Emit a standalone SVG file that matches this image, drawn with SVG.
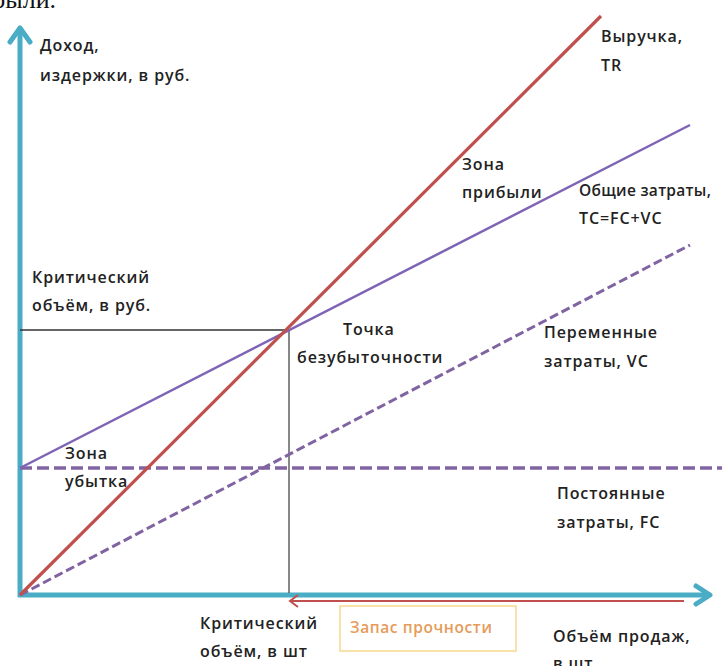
<svg xmlns="http://www.w3.org/2000/svg" width="722" height="666" viewBox="0 0 722 666">
<style>
.t{font-family:"Open Sans","Liberation Sans",sans-serif;font-size:16px;font-weight:600;fill:#222;letter-spacing:0.9px}
.ax{stroke:#4bacc6;stroke-width:5;fill:none}
.ah{stroke:#4bacc6;stroke-width:5;fill:none;stroke-linecap:round;stroke-linejoin:round}
.dash{stroke:#8064a2;fill:none}
</style>
<rect width="722" height="666" fill="#fff"/>
<text x="-8" y="8" font-family="Liberation Serif,serif" font-size="26" fill="#111">были.</text>
<g id="connectors">
  <line class="ax" x1="20" y1="597" x2="20" y2="30"/>
  <polyline class="ah" points="10,42 20,28 30,42"/>
  <line class="ax" x1="18" y1="595" x2="706" y2="595"/>
  <polyline class="ah" points="696,586 710,595 696,604"/>
  <line x1="290" y1="601" x2="684" y2="601" stroke="#c0504d" stroke-width="2"/>
  <polyline points="298,595 290,601 298,607" stroke="#c0504d" stroke-width="2" fill="none"/>
  <line x1="20" y1="330" x2="289" y2="330" stroke="#333" stroke-width="1.4"/>
  <line x1="289" y1="330" x2="289" y2="593" stroke="#555" stroke-width="1.4"/>
  <line id="fc" class="dash" x1="20" y1="468" x2="722" y2="468" stroke-width="3.5" stroke-dasharray="12,5"/>
  <line id="vc" class="dash" x1="20" y1="595" x2="690" y2="245" stroke-width="3" stroke-dasharray="9,4"/>
  <line id="tc" x1="20" y1="468" x2="690" y2="125" stroke="#7e64b4" stroke-width="2.5"/>
  <line id="tr" x1="20" y1="595" x2="601" y2="16" stroke="#c0504d" stroke-width="3.2"/>
</g>
<g id="y-label"><text class="t" x="40" y="51">Доход,</text><text class="t" x="40" y="81">издержки, в руб.</text></g>
<g id="tr-label"><text class="t" x="601" y="42">Выручка,</text><text class="t" x="601" y="71">TR</text></g>
<g id="profit"><text class="t" x="462" y="170">Зона</text><text class="t" x="462" y="198">прибыли</text></g>
<g id="tc-label"><text class="t" x="579" y="196" style="letter-spacing:0.3px;font-size:15.5px">Общие затраты,</text><text class="t" x="579" y="224">TC=FC+VC</text></g>
<g id="crit-rub"><text class="t" x="32" y="283">Критический</text><text class="t" x="32" y="311">объём, в руб.</text></g>
<g id="bep"><text class="t" x="343" y="335">Точка</text><text class="t" x="297" y="363">безубыточности</text></g>
<g id="vc-label"><text class="t" x="544" y="338">Переменные</text><text class="t" x="544" y="367">затраты, VC</text></g>
<g id="loss"><text class="t" x="65" y="459">Зона</text><text class="t" x="65" y="487">убытка</text></g>
<g id="fc-label"><text class="t" x="557" y="499">Постоянные</text><text class="t" x="557" y="528">затраты, FC</text></g>
<g id="crit-sht"><text class="t" x="200" y="629">Критический</text><text class="t" x="200" y="657">объём, в шт</text></g>
<g id="margin"><rect x="340" y="606" width="176" height="45" fill="#fff" stroke="#f7d98f" stroke-width="1.5"/><text x="350" y="633" font-family="Open Sans,Liberation Sans,sans-serif" font-size="15.5" font-weight="600" letter-spacing="0.6" fill="#e69b5a">Запас прочности</text></g>
<g id="x-label"><text class="t" x="553" y="642">Объём продаж,</text><text class="t" x="553" y="669">в шт.</text></g>
</svg>
